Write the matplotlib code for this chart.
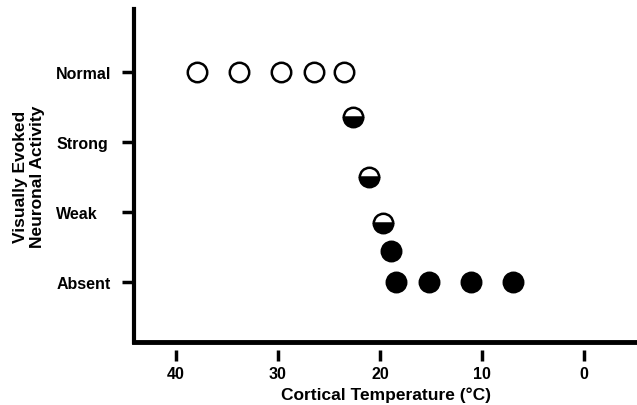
import matplotlib
matplotlib.use("Agg")
from matplotlib import pyplot as plt

plt.rcParams['font.family'] = ['Liberation Sans', 'DejaVu Sans']
plt.rcParams['font.weight'] = 'bold'

# Datos
open_temp = [37.9, 33.8, 29.7, 26.5, 23.5]
open_level = [3, 3, 3, 3, 3]
half_temp = [22.6, 21.1, 19.7]
half_level = [2.36, 1.5, 0.84]
full_temp = [18.9, 18.4, 15.2, 11.1, 7.0]
full_level = [0.44, 0, 0, 0, 0]

level_names = ['Absent', 'Weak', 'Strong', 'Normal']
xticks = [40, 30, 20, 10, 0]

fig = plt.figure(figsize=(6.37, 4.06), dpi=100)
ax = fig.add_axes([0.2104, 0.155, 0.7896, 0.82])

ms = 14
ax.plot(open_temp, open_level, 'o', ms=ms, mfc='white', mec='black', mew=1.8, ls='none')
ax.plot(half_temp, half_level, 'o', ms=ms, fillstyle='bottom', mfc='black',
        mfcalt='white', mec='black', mew=1.8, ls='none')
ax.plot(full_temp, full_level, 'o', ms=ms, mfc='black', mec='black', mew=1.8, ls='none')

ax.set_xlim(44.1, -5.2)
ax.set_ylim(-0.86, 3.9)

ax.spines['top'].set_visible(False)
ax.spines['right'].set_visible(False)
ax.spines['left'].set_linewidth(3)
ax.spines['bottom'].set_visible(False)
ax.spines['bottom'].set_position(('outward', 6))
ax.axhline(-0.86, color='black', lw=3.5, clip_on=False)

ax.set_xticks(xticks)
ax.set_xticklabels([str(t) for t in xticks], fontsize=11.5, fontweight='bold')
ax.set_yticks(range(4))
ax.set_yticklabels(level_names, fontsize=11.5, fontweight='bold', ha='left')
ax.tick_params(axis='x', length=8, width=2.5, pad=3)
ax.tick_params(axis='y', length=9, width=2.5, pad=47)

ax.set_xlabel('Cortical Temperature (°C)', fontsize=12.5, fontweight='bold', labelpad=4)
ax.set_ylabel('Visually Evoked\nNeuronal Activity', fontsize=12.5, fontweight='bold', labelpad=8)

fig.savefig('out.png', dpi=100)
